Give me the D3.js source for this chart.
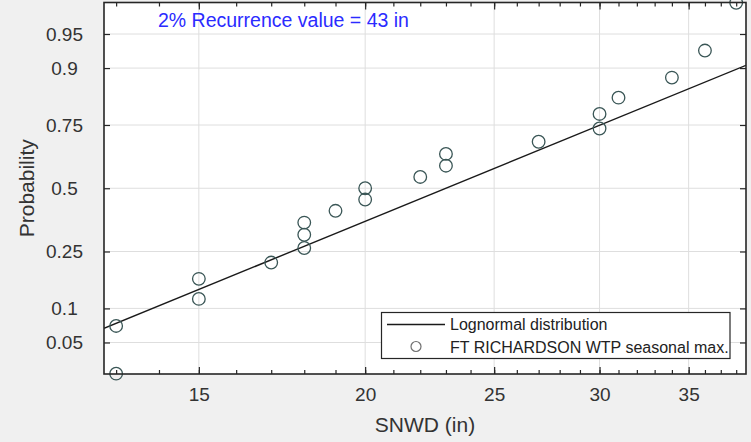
<!DOCTYPE html>
<html><head><meta charset="utf-8">
<script src="https://cdn.jsdelivr.net/npm/d3@7"></script>
<style>
html,body{margin:0;padding:0;background:#f0f0f0;}
svg{display:block;font-family:"Liberation Sans",Arial,sans-serif;}
</style></head>
<body><svg id="c" width="751" height="442"></svg>
<script>
// ---- data ----
const snwd = [13,13,15,15,17,18,18,18,19,20,20,22,23,23,27,30,30,31,34,36,38];
const probs = [0.024,0.071,0.119,0.167,0.214,0.262,0.310,0.357,0.405,0.452,0.500,
               0.548,0.595,0.643,0.690,0.738,0.786,0.833,0.881,0.929,0.976];
const xTickValues = [15,20,25,30,35];
const xMinorTicks = [13,14,15,16,17,18,19,20,21,22,23,24,25,26,27,28,29,30,31,32,33,34,35,36,37,38];
const probTickValues = [0.05,0.1,0.25,0.5,0.75,0.9,0.95];
const probTickLabels = ["0.05","0.1","0.25","0.5","0.75","0.9","0.95"];
const fitMedian = 23.0;   // lognormal fit median (in)
const fitSigma = 0.396;   // lognormal fit sigma (log units)
const xDomain = [12.73, 38.65];
const pDomain = [0.0238, 0.9762];
const annotation = "2% Recurrence value = 43 in";
const legendLabels = ["Lognormal distribution", "FT RICHARDSON WTP seasonal max."];

// inverse standard normal CDF (Acklam)
function probit(p){
  const a=[-3.969683028665376e+01,2.209460984245205e+02,-2.759285104469687e+02,1.383577518672690e+02,-3.066479806614716e+01,2.506628277459239e+00];
  const b=[-5.447609879822406e+01,1.615858368580409e+02,-1.556989798598866e+02,6.680131188771972e+01,-1.328068155288572e+01];
  const c=[-7.784894002430293e-03,-3.223964580411365e-01,-2.400758277161838e+00,-2.549732539343734e+00,4.374664141464968e+00,2.938163982698783e+00];
  const d=[7.784695709041462e-03,3.224671290700398e-01,2.445134137142996e+00,3.754408661907416e+00];
  const pl=0.02425, ph=1-pl; let q,r;
  if(p<pl){q=Math.sqrt(-2*Math.log(p));return (((((c[0]*q+c[1])*q+c[2])*q+c[3])*q+c[4])*q+c[5])/((((d[0]*q+d[1])*q+d[2])*q+d[3])*q+1);}
  if(p<=ph){q=p-0.5;r=q*q;return (((((a[0]*r+a[1])*r+a[2])*r+a[3])*r+a[4])*r+a[5])*q/(((((b[0]*r+b[1])*r+b[2])*r+b[3])*r+b[4])*r+1);}
  q=Math.sqrt(-2*Math.log(1-p));return -(((((c[0]*q+c[1])*q+c[2])*q+c[3])*q+c[4])*q+c[5])/((((d[0]*q+d[1])*q+d[2])*q+d[3])*q+1);
}

const L=104, R=746, T=2.5, B=374;
const svg = d3.select("#c");
svg.append("rect").attr("width",751).attr("height",442).attr("fill","#f0f0f0");

const x = d3.scaleLog().domain(xDomain).range([L,R]);
const yZ = d3.scaleLinear().domain([probit(pDomain[0]), probit(pDomain[1])]).range([B,T]);
const y = p => yZ(probit(p));

svg.append("rect").attr("x",L).attr("y",T).attr("width",R-L).attr("height",B-T).attr("fill","#fff");

// grid
const g = svg.append("g");
g.selectAll(".vg").data(xTickValues).enter().append("line")
 .attr("x1",d=>x(d)).attr("x2",d=>x(d)).attr("y1",T).attr("y2",B)
 .attr("stroke","#dedede").attr("stroke-width",1);
g.selectAll(".hg").data(probTickValues).enter().append("line")
 .attr("x1",L).attr("x2",R).attr("y1",d=>y(d)).attr("y2",d=>y(d))
 .attr("stroke","#dedede").attr("stroke-width",1);

// axes (ticks inward)
const zTicks = probTickValues.map(probit);
const zFmt = (d,i)=>probTickLabels[i];
function styleAxis(sel){ sel.select(".domain").remove(); sel.selectAll("line").attr("stroke","#262626").attr("stroke-width",1.2); }

const xb = svg.append("g").attr("transform",`translate(0,${B})`)
 .call(d3.axisBottom(x).tickValues(xMinorTicks).tickSize(-4).tickFormat(""));
styleAxis(xb);
const xbm = svg.append("g").attr("transform",`translate(0,${B})`)
 .call(d3.axisBottom(x).tickValues(xTickValues).tickSize(-7).tickPadding(14).tickFormat(d3.format("d")));
styleAxis(xbm);
xbm.selectAll("text").attr("font-size",19).attr("fill","#333").attr("font-family","Liberation Sans, Arial, sans-serif");

const xt = svg.append("g").attr("transform",`translate(0,${T})`)
 .call(d3.axisTop(x).tickValues(xMinorTicks).tickSize(-4).tickFormat(""));
styleAxis(xt);
const xtm = svg.append("g").attr("transform",`translate(0,${T})`)
 .call(d3.axisTop(x).tickValues(xTickValues).tickSize(-7).tickFormat(""));
styleAxis(xtm);

const yl = svg.append("g").attr("transform",`translate(${L},0)`)
 .call(d3.axisLeft(yZ).tickValues(zTicks).tickSize(-6).tickFormat(zFmt));
styleAxis(yl);
yl.selectAll("text").attr("font-size",19).attr("fill","#333").attr("text-anchor","middle")
 .attr("x",64.5-L).attr("font-family","Liberation Sans, Arial, sans-serif");
const yr = svg.append("g").attr("transform",`translate(${R},0)`)
 .call(d3.axisRight(yZ).tickValues(zTicks).tickSize(-6).tickFormat(""));
styleAxis(yr);

// clip
svg.append("clipPath").attr("id","clip").append("rect").attr("x",L).attr("y",T).attr("width",R-L).attr("height",B-T);

// fitted lognormal line
const lineData = xDomain;
const zOf = v => (Math.log(v)-Math.log(fitMedian))/fitSigma;
svg.append("path").attr("clip-path","url(#clip)")
 .datum(lineData)
 .attr("d", d3.line().x(d=>x(d)).y(d=>yZ(zOf(d))))
 .attr("fill","none").attr("stroke","#1a1a1a").attr("stroke-width",1.4);

// data points
svg.append("g").selectAll("circle").data(snwd).enter().append("circle")
 .attr("cx",d=>x(d)).attr("cy",(d,i)=>y(probs[i])).attr("r",6.3)
 .attr("fill","none").attr("stroke","#3a5656").attr("stroke-width",1.3);

// frame
svg.append("rect").attr("x",L).attr("y",T).attr("width",R-L).attr("height",B-T)
 .attr("fill","none").attr("stroke","#262626").attr("stroke-width",1.6);

// annotation
svg.append("text").attr("x",158).attr("y",26.5).attr("font-size",19.5).attr("fill","#2b2bff").text(annotation);

// legend
const lg = svg.append("g");
lg.append("rect").attr("x",381.5).attr("y",312.5).attr("width",348.5).attr("height",46)
 .attr("fill","#fff").attr("stroke","#262626").attr("stroke-width",1.2);
lg.append("line").attr("x1",387).attr("x2",445).attr("y1",324.5).attr("y2",324.5).attr("stroke","#1a1a1a").attr("stroke-width",1.4);
lg.append("circle").attr("cx",416).attr("cy",346.5).attr("r",5).attr("fill","none").attr("stroke","#707070").attr("stroke-width",1.2);
lg.selectAll("text").data(legendLabels).enter().append("text")
 .attr("x",450).attr("y",(d,i)=>[330,352.5][i]).attr("font-size",16).attr("fill","#222").text(d=>d);

// axis labels
svg.append("text").attr("x",(L+R)/2).attr("y",432).attr("text-anchor","middle").attr("font-size",21).attr("fill","#333").text("SNWD (in)");
svg.append("text").attr("transform",`translate(34,${(T+B)/2}) rotate(-90)`).attr("text-anchor","middle").attr("font-size",21).attr("fill","#333").text("Probability");
</script></body></html>
